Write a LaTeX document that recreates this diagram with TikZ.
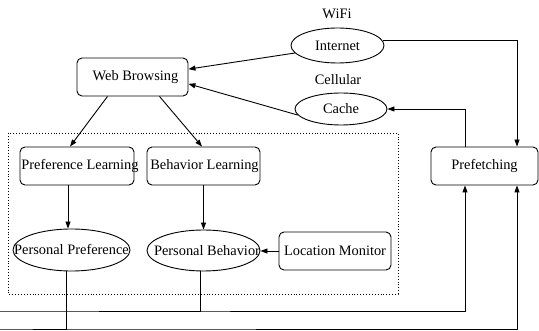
\documentclass[tikz,border=0pt]{standalone}
\usepackage{fontspec}
\setmainfont{Liberation Serif}
\usetikzlibrary{shapes.geometric,arrows.meta,calc}
\tikzset{
  box/.style={draw, line width=0.9pt, rounded corners=5pt, inner sep=0pt},
  oval/.style={draw, ellipse, line width=0.9pt, inner sep=0pt},
  lbl/.style={inner sep=0pt},
  arr/.style={line width=0.9pt, -{Triangle[length=7pt,width=5pt]}},
  frame/.style={line width=0.9pt, dotted}
}
\begin{document}
\begin{tikzpicture}[x=1pt,y=-1pt,font=\fontsize{14.4}{17}\selectfont]
\useasboundingbox (0,0) rectangle (539,331);
% frame
\draw[frame] (8,133) rectangle (398,294);
% nodes
\node[lbl] (wifi) at (337,14) {WiFi};
\node[lbl] (cell) at (338,80) {Cellular};
\node[oval, minimum width=93pt, minimum height=35pt] (internet) at (337.5,45.5) {\makebox[0pt]{Internet}};
\node[oval, minimum width=92pt, minimum height=32pt] (cache) at (341,109) {\makebox[0pt]{Cache}};
\node[box, minimum width=111pt, minimum height=38pt] (web) at (132.5,77) {\makebox[0pt]{\kern6pt Web Browsing}};
\node[box, minimum width=114pt, minimum height=38pt] (pref) at (77,166) {\makebox[0pt]{\kern6pt Preference Learning}};
\node[box, minimum width=113pt, minimum height=38pt] (behl) at (203.5,166) {\makebox[0pt]{\kern2pt Behavior Learning}};
\node[oval, minimum width=117pt, minimum height=42pt] (pp) at (71.5,250) {\makebox[0pt]{Personal Preference}};
\node[oval, minimum width=113pt, minimum height=41pt] (pb) at (203.5,250.5) {\makebox[0pt]{\kern7pt Personal Behavior}};
\node[box, minimum width=112pt, minimum height=38pt] (loc) at (335,251) {Location Monitor};
\node[box, minimum width=107pt, minimum height=38pt] (prefetch) at (484.5,166) {Prefetching};
\coordinate (b1) at (0,311);
\coordinate (b2) at (0,329);
% connectors
\draw[arr] (internet.190) -- (web.8);
\draw[arr] (cache.188) -- (web.-7);
\draw[arr] ([xshift=-25pt]web.south) -- ([xshift=-7pt]pref.north);
\draw[arr] ([xshift=27pt]web.south) -- ([xshift=-1.5pt]behl.north);
\draw[arr] ([xshift=-9pt]pref.south) -- ([xshift=-9pt]pref.south |- pp.north);
\draw[arr] (behl.south) -- (pb.north);
\draw[arr] (loc.west) -- (loc.west -| pb.east);
\draw[arr] (internet.6) -| ([xshift=32.5pt]prefetch.north);
\draw[arr] ([xshift=-19.5pt]prefetch.north) |- (cache.east);
\draw[arr] ([xshift=-3.5pt]pb.south) |- (b1) -| ([xshift=-19.5pt]prefetch.south);
\draw[arr] ([xshift=-5.5pt]pp.south) |- (b2) -| ([xshift=32.5pt]prefetch.south);
\end{tikzpicture}
\end{document}
